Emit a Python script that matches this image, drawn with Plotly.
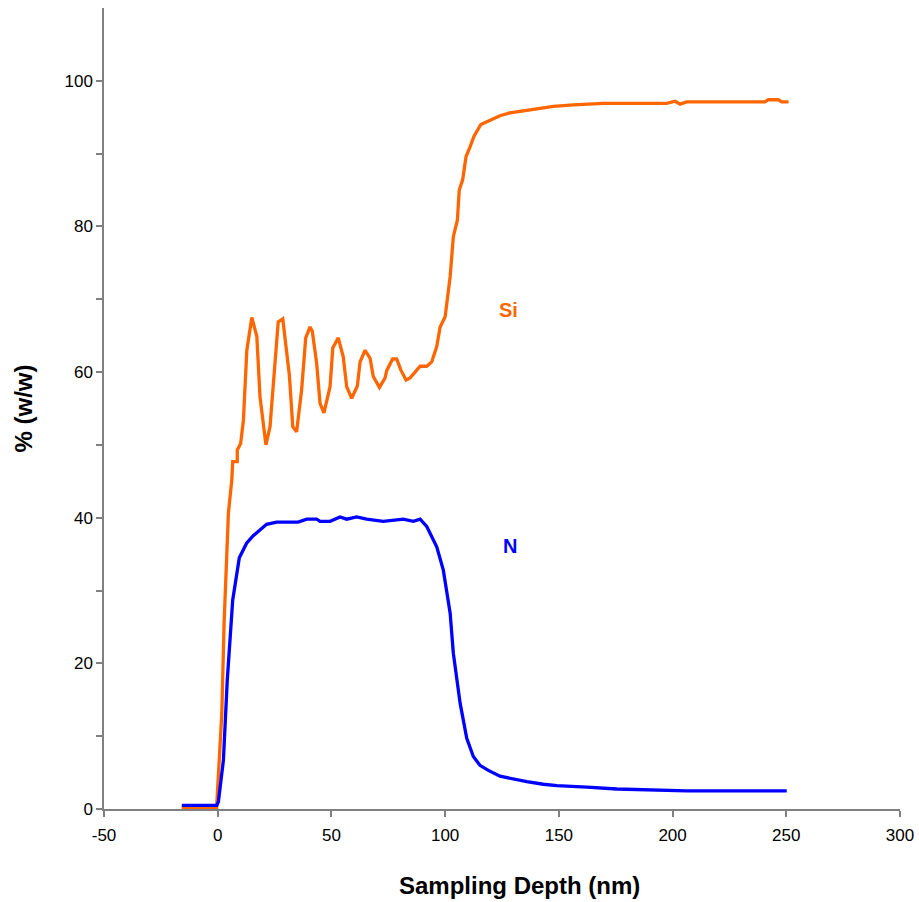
import plotly.graph_objects as go

# Sampling depth (nm) and concentration (% w/w)
si_depth = [-15.8, -0.5, 1.8, 2.8, 4.7, 6.2, 6.6, 8.6, 8.6, 10.1, 11.3, 12.8, 15.0, 17.2, 18.6,
            21.2, 23.0, 24.4, 26.6, 28.6, 29.6, 31.5, 33.0, 34.7, 36.9, 38.7, 40.6, 41.6, 43.5,
            45.0, 46.7, 49.4, 50.6, 53.0, 55.2, 56.7, 58.9, 61.4, 62.6, 64.8, 67.0, 68.4, 71.1,
            73.6, 74.3, 76.9, 78.7, 80.5, 82.8, 84.6, 89.0, 91.9, 94.1, 96.3, 97.8, 100.0, 102.2,
            103.6, 105.4, 106.2, 107.7, 109.2, 110.9, 112.7, 115.7, 120.5, 124.1, 128.5, 135.1,
            141.7, 147.6, 156.4, 169.6, 197.4, 201.1, 203.3, 206.2, 240.7, 242.1, 246.5, 248.0, 251.0]
si_conc = [0.2, 0.2, 13.1, 25.5, 40.6, 45.2, 47.7, 47.7, 49.3, 50.2, 53.4, 63.0, 67.5, 64.9, 56.6,
           50.0, 52.5, 57.6, 66.9, 67.3, 64.4, 59.6, 52.5, 51.8, 57.6, 64.7, 66.2, 65.6, 61.2,
           55.7, 54.4, 58.0, 63.3, 64.7, 62.1, 58.0, 56.4, 58.1, 61.4, 63.0, 61.9, 59.4, 57.9,
           59.2, 60.2, 61.8, 61.8, 60.3, 58.9, 59.2, 60.8, 60.8, 61.4, 63.5, 66.2, 67.6, 73.1,
           78.6, 80.9, 85.0, 86.4, 89.6, 90.9, 92.4, 94.0, 94.7, 95.2, 95.6, 95.9,
           96.2, 96.5, 96.7, 96.9, 96.9, 97.2, 96.8, 97.1, 97.1, 97.4, 97.4, 97.1, 97.1]

n_depth = [-15.8, -0.4, 0.3, 2.5, 4.2, 6.6, 9.5, 12.7, 15.5, 18.6, 21.5, 25.9, 35.4, 39.1, 43.5,
           45.0, 49.4, 53.8, 56.7, 61.1, 65.5, 72.8, 81.6, 86.0, 89.0, 91.9, 96.3, 99.2, 102.2,
           103.6, 106.6, 109.5, 112.4, 115.3, 119.0, 124.1, 131.5, 135.9, 143.2, 149.1, 162.3,
           175.5, 206.2, 250.2]
n_conc = [0.5, 0.5, 1.0, 6.7, 17.7, 28.7, 34.5, 36.5, 37.5, 38.3, 39.1, 39.4, 39.4, 39.8, 39.8,
          39.5, 39.5, 40.1, 39.8, 40.1, 39.8, 39.5, 39.8, 39.5, 39.8, 38.8, 36.0, 32.8, 26.9,
          21.4, 14.5, 9.7, 7.2, 6.0, 5.3, 4.5, 4.0, 3.75, 3.4, 3.2, 3.0,
          2.75, 2.5, 2.5]

x_tick_vals = [-50, 0, 50, 100, 150, 200, 250, 300]
x_tick_text = ["-50", "0", "50", "100", "150", "200", "250", "300"]
y_tick_vals = [0, 20, 40, 60, 80, 100]
y_minor_vals = [10, 30, 50, 70, 90]

ORANGE = "#FF6600"
BLUE = "#0000FF"
AXIS = "#808080"
FONT = "Liberation Sans, Arial, sans-serif"

fig = go.Figure()
fig.add_trace(go.Scatter(x=si_depth, y=si_conc, mode="lines", name="Si",
                         line=dict(color=ORANGE, width=3.3)))
fig.add_trace(go.Scatter(x=n_depth, y=n_conc, mode="lines", name="N",
                         line=dict(color=BLUE, width=3.3)))

fig.add_annotation(x=127.7, y=68.5, text="<b>Si</b>", showarrow=False,
                   font=dict(family=FONT, size=20, color=ORANGE))
fig.add_annotation(x=128.5, y=36.1, text="<b>N</b>", showarrow=False,
                   font=dict(family=FONT, size=20, color=BLUE))
# x-axis title (slightly right of the plot centre, as in the original)
fig.add_annotation(xref="paper", yref="paper", x=0.522, y=-0.095,
                   xanchor="center", yanchor="middle", showarrow=False,
                   text="<b>Sampling Depth (nm)</b>",
                   font=dict(family=FONT, size=24, color="black"))

fig.update_layout(
    width=919, height=902,
    margin=dict(l=104, r=19, t=8, b=93, autoexpand=False),
    paper_bgcolor="white", plot_bgcolor="white",
    showlegend=False,
    font=dict(family=FONT, size=17, color="black"),
    xaxis=dict(range=[-50, 300], tickvals=x_tick_vals, ticktext=x_tick_text,
               automargin=False,
               showgrid=False, zeroline=False, showline=True, linecolor=AXIS, linewidth=1.5,
               ticks="outside", ticklen=6, tickcolor=AXIS, tickwidth=1.5,
               ticklabelstandoff=4,
               tickfont=dict(size=17)),
    yaxis=dict(range=[0, 110], tickvals=y_tick_vals,
               automargin=False,
               showgrid=False, zeroline=False, showline=True, linecolor=AXIS, linewidth=1.5,
               ticks="outside", ticklen=6, tickcolor=AXIS, tickwidth=1.5,
               tickfont=dict(size=17),
               minor=dict(tickvals=y_minor_vals, ticks="outside", ticklen=6,
                          tickcolor=AXIS, tickwidth=1.5),
               title=dict(text="<b>% (w/w)</b>", font=dict(size=24), standoff=25)),
)

fig.write_html("out.html",
               config={"displayModeBar": False},
               post_script="document.body.style.margin='0';document.body.style.overflow='hidden';")
